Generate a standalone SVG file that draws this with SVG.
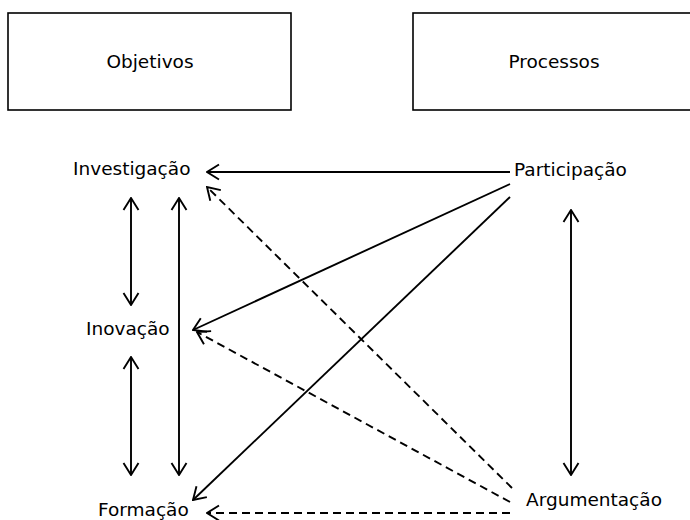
<svg xmlns="http://www.w3.org/2000/svg" width="690" height="520" viewBox="0 0 690 520">
<style>
.box{fill:#fff;stroke:#000;stroke-width:1.6}
.t{font-family:"DejaVu Sans",sans-serif;font-size:18.5px;fill:#000}
.bt{font-family:"DejaVu Sans",sans-serif;font-size:18.5px;fill:#000;text-anchor:middle}
.c{fill:none;stroke:#000;stroke-width:1.9}
.d{stroke-dasharray:8 5}
</style>
<defs>
<marker id="ah" viewBox="0 0 14 18" refX="13" refY="9" markerWidth="14" markerHeight="18" markerUnits="userSpaceOnUse" orient="auto-start-reverse">
<path d="M1,1.5 L13,9 L1,16.5" fill="none" stroke="#000" stroke-width="1.9"/>
</marker>
</defs>
<rect width="690" height="520" fill="#fff"/>
<g id="objetivos"><rect class="box" x="8" y="13" width="283" height="97"/><text class="bt" x="150" y="68">Objetivos</text></g>
<g id="processos"><rect class="box" x="413" y="13" width="290" height="97"/><text class="bt" x="554" y="68">Processos</text></g>
<g id="investigacao"><text class="t" x="73" y="175">Investigação</text></g>
<g id="inovacao"><text class="t" x="86" y="335">Inovação</text></g>
<g id="formacao"><text class="t" x="98" y="516">Formação</text></g>
<g id="participacao"><text class="t" x="514" y="176">Participação</text></g>
<g id="argumentacao"><text class="t" x="526" y="506">Argumentação</text></g>
<g id="connectors">
<line class="c" x1="510" y1="172" x2="207" y2="172" marker-end="url(#ah)"/>
<line class="c" x1="510" y1="184" x2="193" y2="330" marker-end="url(#ah)"/>
<line class="c" x1="510" y1="197" x2="193" y2="500" marker-end="url(#ah)"/>
<line class="c d" x1="512" y1="488" x2="207" y2="187" marker-end="url(#ah)"/>
<line class="c d" x1="510" y1="502" x2="197" y2="332" marker-end="url(#ah)"/>
<line class="c d" x1="510" y1="513" x2="207" y2="513" marker-end="url(#ah)"/>
<line class="c" x1="131" y1="198" x2="131" y2="305" marker-start="url(#ah)" marker-end="url(#ah)"/>
<line class="c" x1="131" y1="357" x2="131" y2="475" marker-start="url(#ah)" marker-end="url(#ah)"/>
<line class="c" x1="179" y1="198" x2="179" y2="475" marker-start="url(#ah)" marker-end="url(#ah)"/>
<line class="c" x1="571" y1="210" x2="571" y2="475" marker-start="url(#ah)" marker-end="url(#ah)"/>
</g>
</svg>
